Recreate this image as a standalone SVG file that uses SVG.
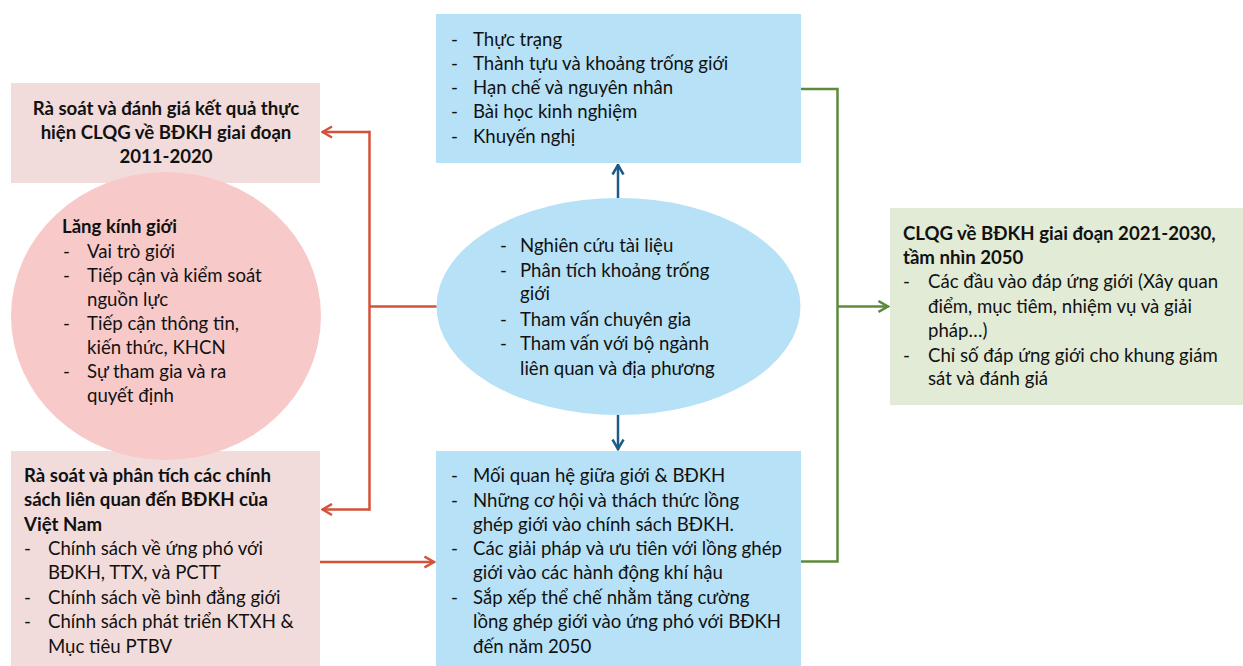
<svg xmlns="http://www.w3.org/2000/svg" width="1243" height="666" viewBox="0 0 1243 666">
<style>
text{font-family:Lato,"Open Sans","Liberation Sans",sans-serif;font-size:18.6px;fill:#111}
.b{font-weight:bold}
.pinkbox{fill:#F2DCDB}
.circle{fill:#F8C9C9}
.bluebox{fill:#B7E1F7}
.greenbox{fill:#E2EBD6}
.red{stroke:#D5523A;stroke-width:2.5;fill:none}
.blue{stroke:#1D5B88;stroke-width:2.5;fill:none}
.green{stroke:#5E8A3C;stroke-width:2.5;fill:none}
</style>
<defs>
<marker id="ar" viewBox="0 0 12 14" refX="11" refY="7" markerWidth="12" markerHeight="14" markerUnits="userSpaceOnUse" orient="auto"><path d="M1,1.5 L10.5,7 L1,12.5" fill="none" stroke="#D5523A" stroke-width="2.5"/></marker>
<marker id="ab" viewBox="0 0 12 14" refX="11" refY="7" markerWidth="12" markerHeight="14" markerUnits="userSpaceOnUse" orient="auto"><path d="M1,1.5 L10.5,7 L1,12.5" fill="none" stroke="#1D5B88" stroke-width="2.5"/></marker>
<marker id="ag" viewBox="0 0 12 14" refX="11" refY="7" markerWidth="12" markerHeight="14" markerUnits="userSpaceOnUse" orient="auto"><path d="M1,1.5 L10.5,7 L1,12.5" fill="none" stroke="#5E8A3C" stroke-width="2.5"/></marker>
</defs>
<rect width="1243" height="666" fill="#fff"/>

<g id="review-box">
<rect class="pinkbox" x="11" y="83" width="309" height="100"/>
<text class="b" text-anchor="middle" x="166" y="115">Rà soát và đánh giá kết quả thực</text>
<text class="b" text-anchor="middle" x="166" y="139">hiện CLQG về BĐKH giai đoạn</text>
<text class="b" text-anchor="middle" x="166" y="163">2011-2020</text>
</g>

<g id="policy-box">
<rect class="pinkbox" x="11" y="451" width="309" height="215"/>
<text class="b" x="24" y="482">Rà soát và phân tích các chính</text>
<text class="b" x="24" y="506">sách liên quan đến BĐKH của</text>
<text class="b" x="24" y="531">Việt Nam</text>
<text x="24" y="555">-</text><text x="48" y="555">Chính sách về ứng phó với</text>
<text x="48" y="579">BĐKH, TTX, và PCTT</text>
<text x="24" y="604">-</text><text x="48" y="604">Chính sách về bình đẳng giới</text>
<text x="24" y="628">-</text><text x="48" y="628">Chính sách phát triển KTXH &amp;</text>
<text x="48" y="653">Mục tiêu PTBV</text>
</g>

<g id="gender-lens">
<ellipse class="circle" cx="166" cy="316" rx="155" ry="144"/>
<text class="b" x="62" y="233">Lăng kính giới</text>
<text x="63" y="258">-</text><text x="87" y="258">Vai trò giới</text>
<text x="63" y="282">-</text><text x="87" y="282">Tiếp cận và kiểm soát</text>
<text x="87" y="306">nguồn lực</text>
<text x="63" y="330">-</text><text x="87" y="330">Tiếp cận thông tin,</text>
<text x="87" y="354">kiến thức, KHCN</text>
<text x="63" y="378">-</text><text x="87" y="378">Sự tham gia và ra</text>
<text x="87" y="402">quyết định</text>
</g>

<g id="findings-box">
<rect class="bluebox" x="436" y="14" width="365" height="149"/>
<text x="451" y="46">-</text><text x="473" y="46">Thực trạng</text>
<text x="451" y="70">-</text><text x="473" y="70">Thành tựu và khoảng trống giới</text>
<text x="451" y="94">-</text><text x="473" y="94">Hạn chế và nguyên nhân</text>
<text x="451" y="118">-</text><text x="473" y="118">Bài học kinh nghiệm</text>
<text x="451" y="143">-</text><text x="473" y="143">Khuyến nghị</text>
</g>

<g id="methods">
<ellipse class="bluebox" cx="618.5" cy="306.5" rx="182" ry="108.5"/>
<text x="500" y="252">-</text><text x="520" y="252">Nghiên cứu tài liệu</text>
<text x="500" y="277">-</text><text x="520" y="277">Phân tích khoảng trống</text>
<text x="520" y="300">giới</text>
<text x="500" y="326">-</text><text x="520" y="326">Tham vấn chuyên gia</text>
<text x="500" y="350">-</text><text x="520" y="350">Tham vấn với bộ ngành</text>
<text x="520" y="375">liên quan và địa phương</text>
</g>

<g id="analysis-box">
<rect class="bluebox" x="436" y="451" width="365" height="215"/>
<text x="451" y="482">-</text><text x="473" y="482">Mối quan hệ giữa giới &amp; BĐKH</text>
<text x="451" y="507">-</text><text x="473" y="507">Những cơ hội và thách thức lồng</text>
<text x="473" y="531">ghép giới vào chính sách BĐKH.</text>
<text x="451" y="555">-</text><text x="473" y="555">Các giải pháp và ưu tiên với lồng ghép</text>
<text x="473" y="579">giới vào các hành động khí hậu</text>
<text x="451" y="604">-</text><text x="473" y="604">Sắp xếp thể chế nhằm tăng cường</text>
<text x="473" y="628">lồng ghép giới vào ứng phó với BĐKH</text>
<text x="473" y="653">đến năm 2050</text>
</g>

<g id="strategy-box">
<rect class="greenbox" x="890" y="208" width="353" height="197"/>
<text class="b" x="903" y="240">CLQG về BĐKH giai đoạn 2021-2030,</text>
<text class="b" x="903" y="264">tầm nhìn 2050</text>
<text x="903" y="288">-</text><text x="928" y="288">Các đầu vào đáp ứng giới (Xây quan</text>
<text x="928" y="313">điểm, mục tiêm, nhiệm vụ và giải</text>
<text x="928" y="337">pháp…)</text>
<text x="903" y="362">-</text><text x="928" y="362">Chỉ số đáp ứng giới cho khung giám</text>
<text x="928" y="385">sát và đánh giá</text>
</g>

<g id="connectors">
<path class="red" d="M436.5,306.5 H369.5"/>
<path class="red" d="M369.5,132 V509.5" stroke-linecap="square"/>
<path class="red" d="M369.5,132 H322" marker-end="url(#ar)"/>
<path class="red" d="M369.5,509.5 H322" marker-end="url(#ar)"/>
<path class="red" d="M320,562 H434.5" marker-end="url(#ar)"/>
<path class="blue" d="M618,198 V164.5" marker-end="url(#ab)"/>
<path class="blue" d="M618,415 V449.5" marker-end="url(#ab)"/>
<path class="green" d="M801,89 H837.5 V561.5 H801"/>
<path class="green" d="M837.5,306.5 H888.5" marker-end="url(#ag)"/>
</g>
</svg>
